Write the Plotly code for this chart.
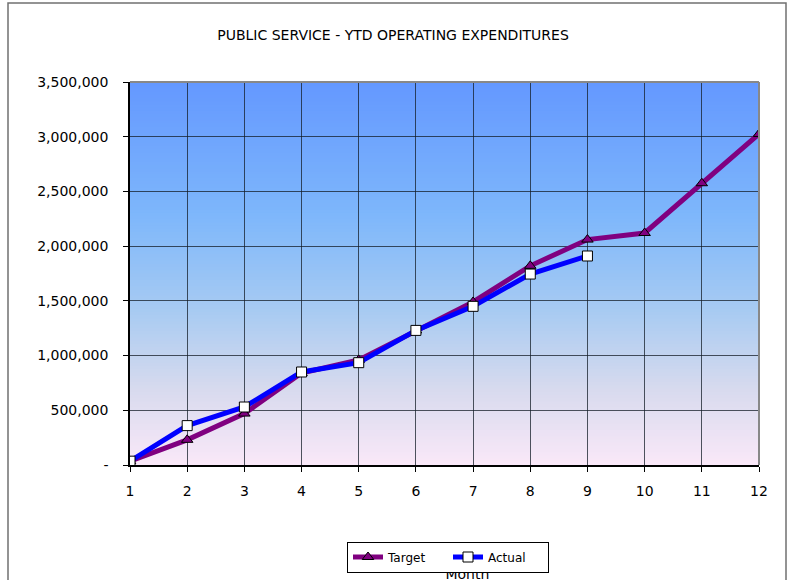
import plotly.graph_objects as go

# Monthly year-to-date operating expenditures
months = [1, 2, 3, 4, 5, 6, 7, 8, 9, 10, 11, 12]
target = [35000, 230000, 470000, 840000, 960000, 1230000, 1490000,
          1820000, 2060000, 2120000, 2575000, 3025000]
actual = [35000, 360000, 530000, 850000, 935000, 1230000, 1450000,
          1745000, 1910000]

y_ticks = [0, 500000, 1000000, 1500000, 2000000, 2500000, 3000000, 3500000]
y_labels = ["-" if v == 0 else f"{v:,}" for v in y_ticks]

title_text = "PUBLIC SERVICE - YTD OPERATING EXPENDITURES"
x_title = "Month"

FONT = "DejaVu Sans"

fig = go.Figure()

fig.add_trace(go.Scatter(
    x=months, y=target, name="Target", mode="lines+markers",
    line=dict(color="#800080", width=5),
    marker=dict(symbol="triangle-up", size=10, color="#800080",
                line=dict(color="black", width=1)),
))
fig.add_trace(go.Scatter(
    x=months[:len(actual)], y=actual, name="Actual", mode="lines+markers",
    line=dict(color="#0000FF", width=5),
    marker=dict(symbol="square", size=10, color="white",
                line=dict(color="black", width=1)),
))

# Invisible trace on an overlaid x axis whose single tick label serves as the
# axis title (tick labels render beneath the legend box)
fig.add_trace(go.Scatter(
    x=[months[0], months[-1]], y=[None, None], xaxis="x2", yaxis="y",
    mode="markers", showlegend=False, hoverinfo="skip",
))

# Vertical gradient for the plotting area
stops = [(0.0, (250, 232, 248)), (0.2, (215, 218, 238)), (0.4, (168, 203, 242)),
         (0.65, (126, 183, 251)), (1.0, (100, 152, 255))]


def grad(t):
    for (t0, c0), (t1, c1) in zip(stops[:-1], stops[1:]):
        if t <= t1:
            f = (t - t0) / (t1 - t0)
            return tuple(round(a + (b - a) * f) for a, b in zip(c0, c1))
    return stops[-1][1]


shapes = []
n = 120
for i in range(n):
    y0 = i / n
    y1 = (i + 1) / n
    r, g, b = grad((i + 0.5) / n)
    shapes.append(dict(type="rect", xref="paper", yref="paper",
                       x0=0, x1=1, y0=y0, y1=y1 + 0.002, layer="below",
                       line=dict(width=0), fillcolor=f"rgb({r},{g},{b})"))

# Gray top/right border of the plot area
shapes.append(dict(type="line", xref="paper", yref="paper", x0=0, x1=1, y0=1, y1=1,
                   line=dict(color="#888888", width=2)))
shapes.append(dict(type="line", xref="paper", yref="paper", x0=1, x1=1, y0=0, y1=1,
                   line=dict(color="#888888", width=2)))
# Outer chart frame
shapes.append(dict(type="rect", xref="paper", yref="paper",
                   x0=-122 / 629, x1=656 / 629, y0=-140 / 383, y1=462 / 383,
                   line=dict(color="#707070", width=1.5), fillcolor="rgba(0,0,0,0)"))

fig.update_layout(
    width=792, height=580,
    margin=dict(l=130, r=33, t=82, b=115, autoexpand=False),
    paper_bgcolor="white", plot_bgcolor="rgba(0,0,0,0)",
    font=dict(family=FONT, size=13, color="black"),
    title=dict(text=title_text, x=393 / 792, xanchor="center",
               y=1 - 35 / 580, yanchor="middle",
               font=dict(family=FONT, size=14, color="black")),
    shapes=shapes,
    showlegend=True,
    legend=dict(orientation="h", x=(448 - 130) / 629, xanchor="center",
                y=-92 / 383, yanchor="middle",
                bgcolor="white", bordercolor="black", borderwidth=1,
                font=dict(family=FONT, size=12, color="black"),
                entrywidth=55, entrywidthmode="pixels",
                itemwidth=30, tracegroupgap=0),
    xaxis=dict(range=[1, 12], tickvals=months, ticks="outside", ticklen=5,
               tickcolor="black", showline=True, linecolor="black", linewidth=1.5,
               showgrid=True, gridcolor="rgba(20,30,40,0.75)", gridwidth=1,
               zeroline=False, tickfont=dict(size=14), ticklabelstandoff=7,
               automargin=False),
    xaxis2=dict(range=[1, 12], overlaying="x", anchor="y", side="bottom",
                tickvals=[6.9], ticktext=[x_title], ticks="", showline=False,
                showgrid=False, zeroline=False, ticklabelstandoff=99,
                automargin=False,
                tickfont=dict(family=FONT, size=14, color="black")),
    yaxis=dict(range=[0, 3500000], tickvals=y_ticks, ticktext=y_labels,
               ticks="outside", ticklen=5, tickcolor="black",
               showline=True, linecolor="black", linewidth=1.5,
               showgrid=True, gridcolor="rgba(20,30,40,0.75)", gridwidth=1,
               zeroline=False, tickfont=dict(size=14), ticklabelstandoff=12,
               automargin=False),
)

fig.write_html("out.html")
